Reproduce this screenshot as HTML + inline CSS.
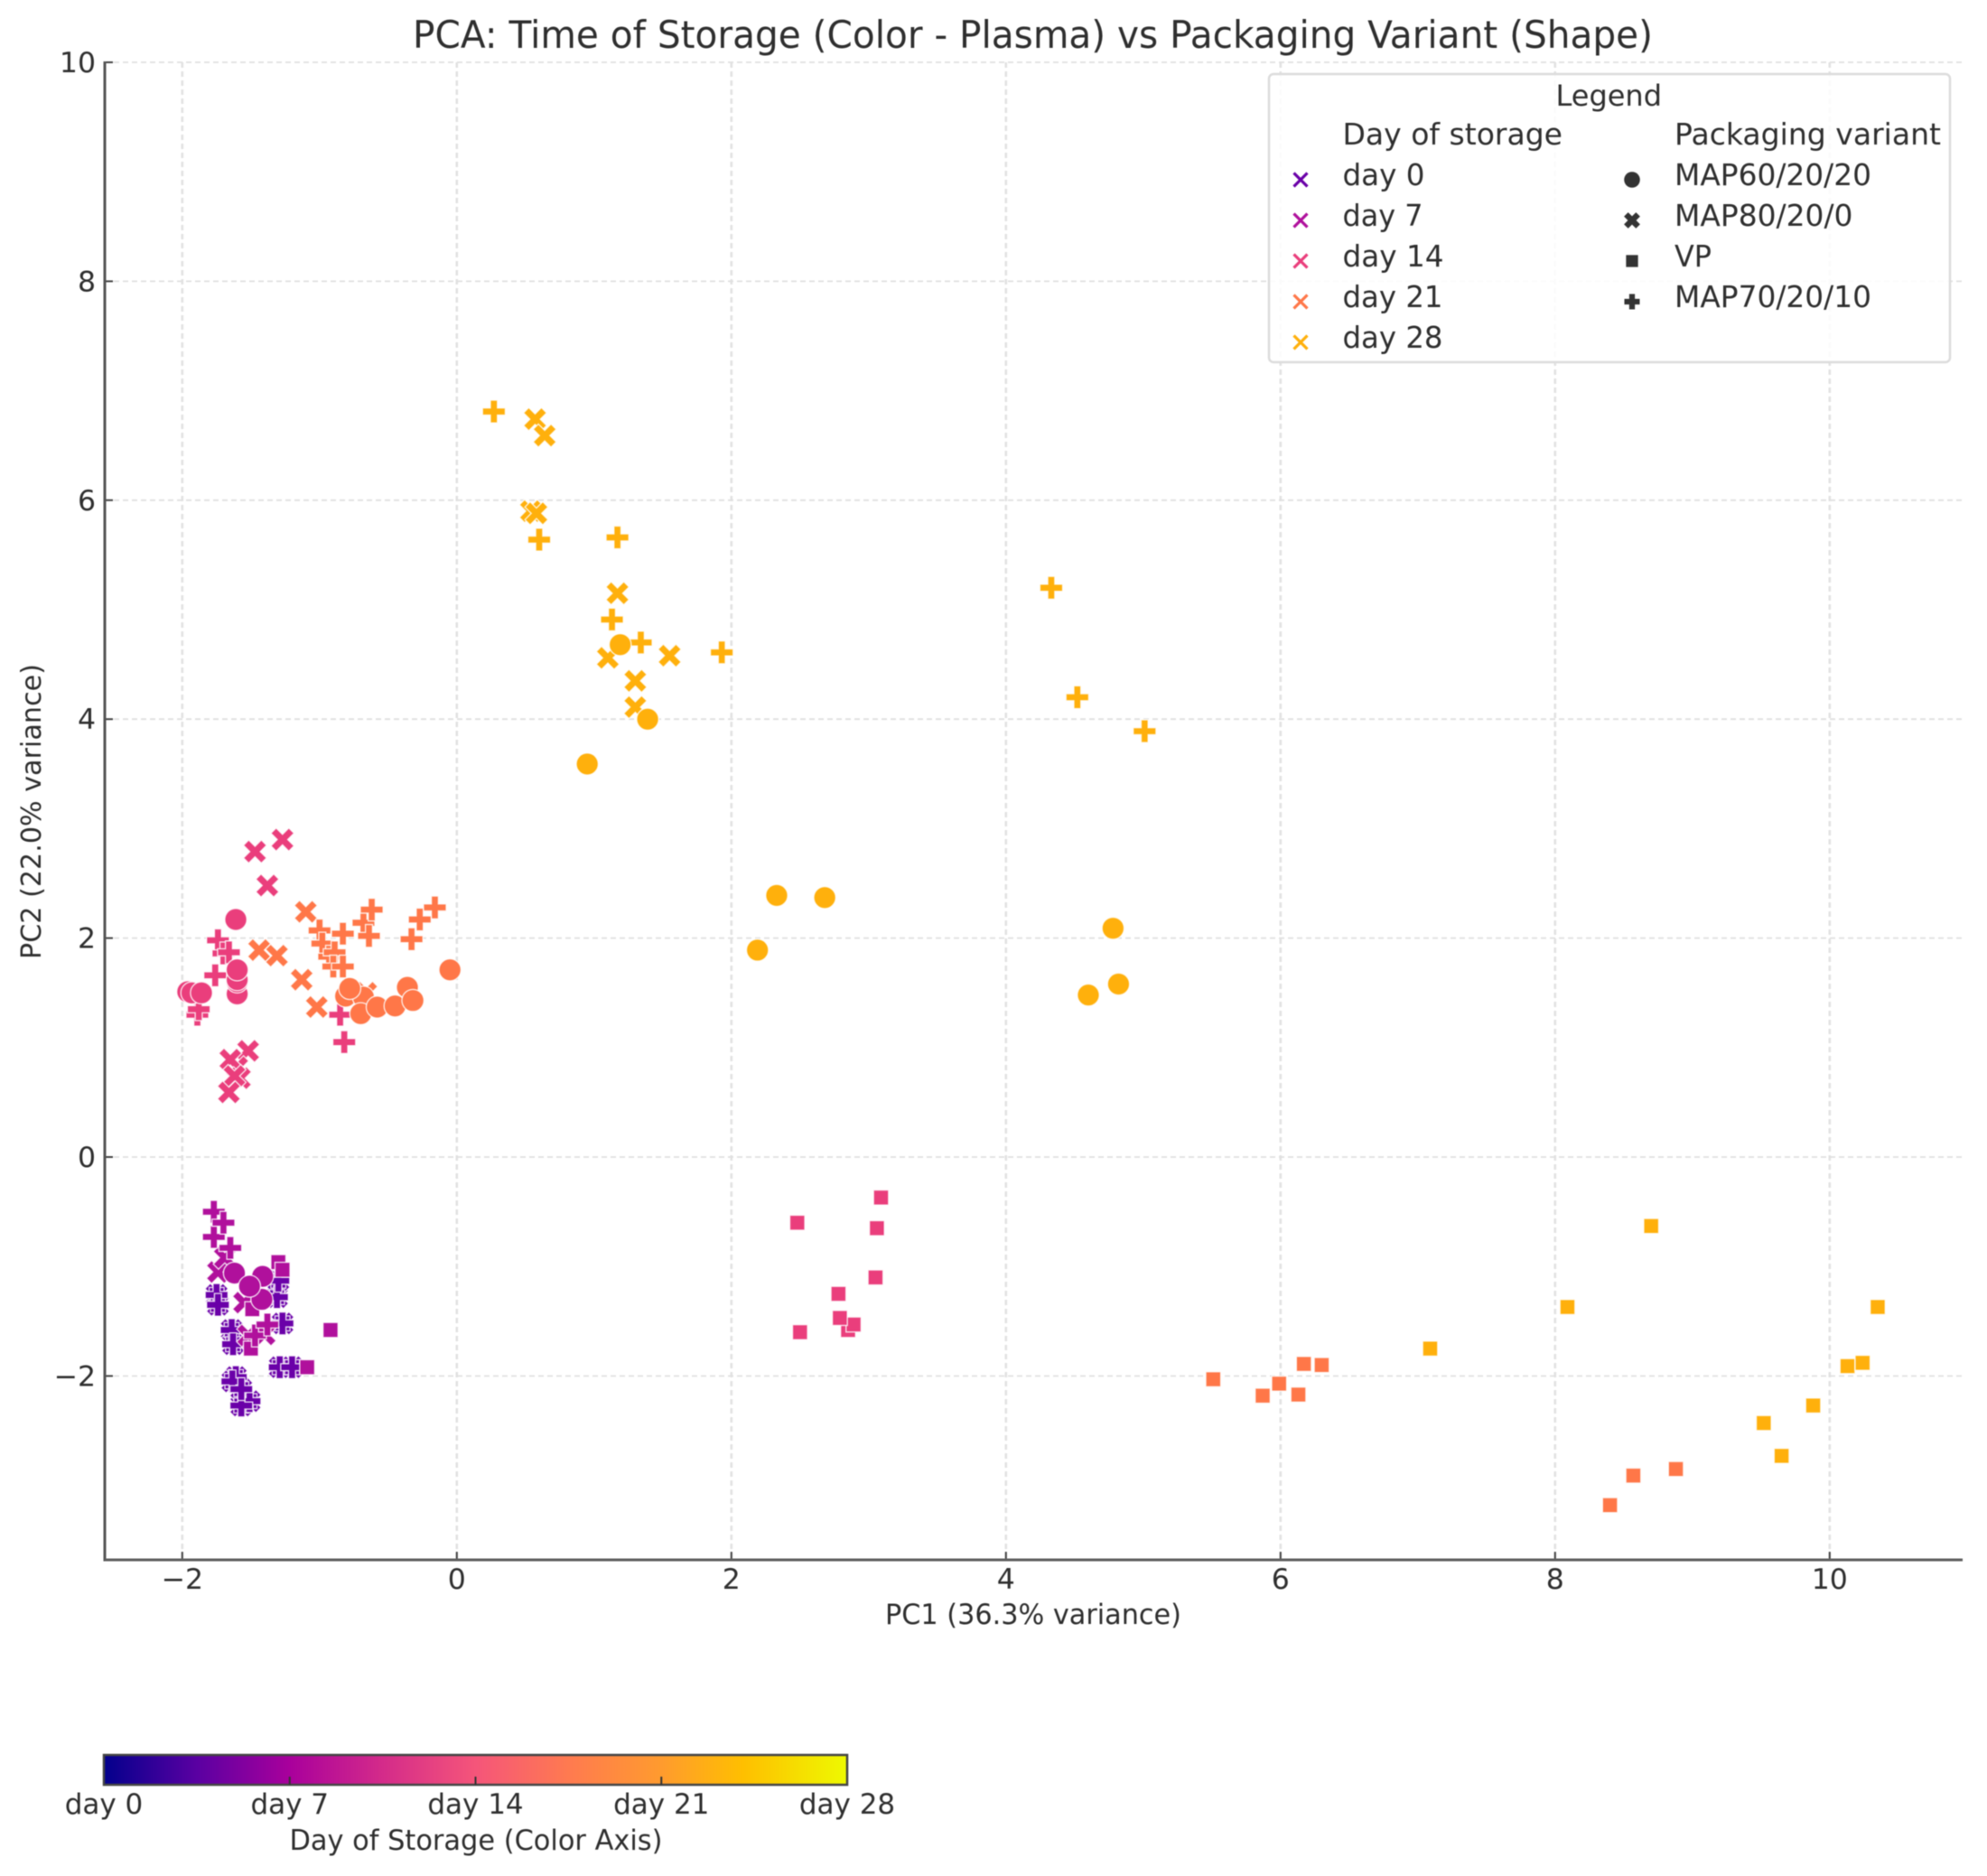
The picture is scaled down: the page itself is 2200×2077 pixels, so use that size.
<!DOCTYPE html>
<html lang="en">
<head>
<meta charset="utf-8">
<title>PCA: Time of Storage vs Packaging Variant</title>
<style>
html,body{margin:0;padding:0;background:#fff;}
svg{display:block;filter:blur(0.5px);}
text{font-family:"DejaVu Sans","Liberation Sans",sans-serif;fill:#2e2e2e;}
</style>
</head>
<body>
<svg id="chart" xmlns="http://www.w3.org/2000/svg" width="2200" height="2077" viewBox="0 0 2200 2077">
  <defs>
    <linearGradient id="plasmaGrad" x1="0" x2="1" y1="0" y2="0">
      <stop offset="0" stop-color="#03008c"/>
      <stop offset="0.125" stop-color="#5a00a2"/>
      <stop offset="0.25" stop-color="#a9009c"/>
      <stop offset="0.375" stop-color="#d42b8a"/>
      <stop offset="0.5" stop-color="#f5557a"/>
      <stop offset="0.625" stop-color="#ff7a50"/>
      <stop offset="0.75" stop-color="#ff9b2e"/>
      <stop offset="0.86" stop-color="#ffbf00"/>
      <stop offset="1" stop-color="#eef900"/>
    </linearGradient>
  </defs>
  <rect x="0" y="0" width="2200" height="2077" fill="#fff"/>
  <g id="grid"></g>
  <g id="marks"></g>
  <g id="axes"></g>

  <text x="1143.5" y="53" font-size="41.5" text-anchor="middle" textLength="1373" lengthAdjust="spacingAndGlyphs">PCA: Time of Storage (Color - Plasma) vs Packaging Variant (Shape)</text>
  <text x="1144" y="1798" font-size="31" text-anchor="middle" textLength="328" lengthAdjust="spacingAndGlyphs">PC1 (36.3% variance)</text>
  <text transform="translate(45 898.5) rotate(-90)" font-size="30.5" text-anchor="middle" textLength="327" lengthAdjust="spacingAndGlyphs">PC2 (22.0% variance)</text>

  <g id="legend">
    <rect x="1405" y="82" width="754" height="319" rx="5" ry="5" fill="#fff" fill-opacity="0.85" stroke="#dcdcdc" stroke-width="2.5"/>
    <text x="1722.5" y="117" font-size="32" textLength="117.5" lengthAdjust="spacingAndGlyphs">Legend</text>
    <text x="1486.5" y="160" font-size="32.5" textLength="243.5" lengthAdjust="spacingAndGlyphs">Day of storage</text>
    <text x="1854" y="160" font-size="32.5" textLength="295" lengthAdjust="spacingAndGlyphs">Packaging variant</text>
    <text x="1486.5" y="205" font-size="32.5" textLength="91" lengthAdjust="spacingAndGlyphs">day 0</text>
    <text x="1486.5" y="250" font-size="32.5" textLength="89" lengthAdjust="spacingAndGlyphs">day 7</text>
    <text x="1486.5" y="295" font-size="32.5" textLength="112" lengthAdjust="spacingAndGlyphs">day 14</text>
    <text x="1486.5" y="340" font-size="32.5" textLength="111" lengthAdjust="spacingAndGlyphs">day 21</text>
    <text x="1486.5" y="385" font-size="32.5" textLength="111" lengthAdjust="spacingAndGlyphs">day 28</text>
    <text x="1854" y="205" font-size="32.5" textLength="218" lengthAdjust="spacingAndGlyphs">MAP60/20/20</text>
    <text x="1854" y="250" font-size="32.5" textLength="197.5" lengthAdjust="spacingAndGlyphs">MAP80/20/0</text>
    <text x="1854" y="295" font-size="32.5" textLength="41" lengthAdjust="spacingAndGlyphs">VP</text>
    <text x="1854" y="340" font-size="32.5" textLength="218" lengthAdjust="spacingAndGlyphs">MAP70/20/10</text>
    <g id="legendMarkers"></g>
  </g>

  <g id="colorbar">
    <rect x="115" y="1943" width="823" height="33" fill="url(#plasmaGrad)" stroke="#444" stroke-width="2.5"/>
    <g id="colorbarTicks"></g>
    <text x="527" y="2048" font-size="31" text-anchor="middle" textLength="413" lengthAdjust="spacingAndGlyphs">Day of Storage (Color Axis)</text>
  </g>
</svg>
<script>
// ---------- chart data (PC1, PC2 pairs) ----------
const xTickValues = [-2, 0, 2, 4, 6, 8, 10];
const yTickValues = [-2, 0, 2, 4, 6, 8, 10];
const colorbarDays = [0, 7, 14, 21, 28];
const colorbarLabels = ['day 0', 'day 7', 'day 14', 'day 21', 'day 28'];

// day 0: all four packaging variants sit on the same positions
const day0Points = [[-1.75,-1.26],[-1.74,-1.35],[-1.64,-1.58],[-1.63,-1.71],[-1.61,-2.01],[-1.635,-2.05],[-1.51,-2.23],[-1.57,-2.27],[-1.57,-2.12],[-1.31,-1.28],[-1.27,-1.52],[-1.29,-1.92],[-1.20,-1.92],[-1.30,-1.13]];

const day7Cross = [[-1.74,-1.05],[-1.69,-0.92],[-1.55,-1.33],[-1.52,-1.63],[-1.40,-1.62]];
const day7Square = [[-1.30,-0.96],[-1.27,-1.03],[-1.49,-1.39],[-1.50,-1.75],[-0.92,-1.58],[-1.09,-1.92]];
const day7Plus = [[-1.77,-0.50],[-1.77,-0.73],[-1.70,-0.60],[-1.65,-0.83],[-1.47,-1.63],[-1.38,-1.53]];
const day7Circle = [[-1.62,-1.06],[-1.415,-1.09],[-1.42,-1.30],[-1.51,-1.18]];

const day14Cross = [[-1.47,2.79],[-1.27,2.90],[-1.38,2.48],[-1.52,0.97],[-1.60,0.82],[-1.65,0.89],[-1.58,0.72],[-1.62,0.74],[-1.66,0.59]];
const day14Square = [[3.09,-0.37],[2.48,-0.60],[3.06,-0.65],[3.05,-1.10],[2.78,-1.25],[2.85,-1.58],[2.89,-1.53],[2.79,-1.47],[2.50,-1.60]];
const day14Plus = [[-1.74,1.98],[-1.70,1.86],[-1.66,1.87],[-1.76,1.66],[-1.89,1.30],[-1.88,1.35],[-0.85,1.30],[-0.82,1.05]];
const day14Circle = [[-1.61,2.17],[-1.60,1.49],[-1.60,1.60],[-1.60,1.62],[-1.60,1.71],[-1.96,1.51],[-1.93,1.50],[-1.86,1.50]];

const day21Cross = [[-1.10,2.24],[-1.44,1.89],[-1.31,1.84],[-1.13,1.62],[-1.02,1.37],[-0.66,1.50]];
const day21Square = [[5.51,-2.03],[5.87,-2.18],[5.99,-2.07],[6.13,-2.17],[6.17,-1.89],[6.30,-1.90],[8.57,-2.91],[8.88,-2.85],[8.40,-3.18]];
const day21Plus = [[-0.68,2.14],[-0.62,2.26],[-0.16,2.28],[-0.27,2.17],[-0.64,2.02],[-0.83,2.04],[-1.00,2.07],[-0.33,1.99],[-0.98,1.95],[-0.93,1.83],[-0.89,1.87],[-0.90,1.74],[-0.83,1.74]];
const day21Circle = [[-0.81,1.47],[-0.68,1.46],[-0.70,1.31],[-0.58,1.37],[-0.45,1.38],[-0.36,1.55],[-0.32,1.43],[-0.05,1.71],[-0.78,1.54]];

const day28Cross = [[0.57,6.74],[0.64,6.59],[0.54,5.90],[0.58,5.88],[1.17,5.15],[1.10,4.56],[1.55,4.58],[1.30,4.35],[1.30,4.11]];
const day28Square = [[8.70,-0.63],[8.09,-1.37],[10.35,-1.37],[10.13,-1.91],[10.24,-1.88],[9.88,-2.27],[9.52,-2.43],[9.65,-2.73],[7.09,-1.75]];
const day28Plus = [[0.27,6.81],[0.60,5.64],[1.17,5.66],[1.13,4.91],[1.34,4.70],[1.93,4.61],[4.33,5.20],[4.52,4.20],[5.01,3.89]];
const day28Circle = [[1.19,4.68],[1.39,4.00],[0.95,3.59],[2.33,2.39],[2.68,2.37],[2.19,1.89],[4.78,2.09],[4.82,1.58],[4.60,1.48]];

// ---------- styles ----------
const dayColors = {0:'#6a00a8', 7:'#b0109c', 14:'#ea3e7c', 21:'#ff7748', 28:'#ffb00c'};
const legendDays = [0, 7, 14, 21, 28];
const legendShapes = ['circle', 'cross', 'square', 'plus'];

// ---------- axis functions ----------
const plotLeft = 116, plotRight = 2173, plotTop = 69, plotBottom = 1727;
function xScale(v){ return 505.8 + 152 * v; }
function yScale(v){ return 1281 - 121.2 * v; }
function barScale(d){ return 115 + d / 28 * 823; }

const NS = 'http://www.w3.org/2000/svg';
function make(tag, parent, attrs){
  const el = document.createElementNS(NS, tag);
  for (const k in attrs) el.setAttribute(k, attrs[k]);
  parent.appendChild(el);
  return el;
}
function fmt(v){ return v < 0 ? '\u2212' + Math.abs(v) : String(v); }

// grid, ticks, spines
const gridG = document.getElementById('grid');
const axesG = document.getElementById('axes');
xTickValues.forEach(function(v){
  const line = make('line', gridG, {x1:xScale(v), x2:xScale(v), y1:plotTop, y2:plotBottom, stroke:'#e2e2e2', 'stroke-width':2.6, 'stroke-dasharray':'6 4'});
  
  
  const tick = make('line', axesG, {x1:xScale(v), x2:xScale(v), y1:plotBottom, y2:plotBottom-9, stroke:'#444', 'stroke-width':2});
  
  
  const label = make('text', axesG, {x:xScale(v), y:1759, 'font-size':31.5, 'text-anchor':'middle'});
  label.textContent = fmt(v);
  
  
});
yTickValues.forEach(function(v){
  const line = make('line', gridG, {x1:plotLeft, x2:plotRight, y1:yScale(v), y2:yScale(v), stroke:'#e0e0e0', 'stroke-width':1.8, 'stroke-dasharray':'6 4'});
  
  
  const tick = make('line', axesG, {x1:plotLeft, x2:plotLeft+9, y1:yScale(v), y2:yScale(v), stroke:'#444', 'stroke-width':2});
  
  
  const label = make('text', axesG, {x:106, y:yScale(v)+11, 'font-size':31.5, 'text-anchor':'end'});
  label.textContent = fmt(v);
  
  
});
const spineLeft = make('line', axesG, {x1:plotLeft, x2:plotLeft, y1:plotTop-1, y2:plotBottom+1.5, stroke:'#555', 'stroke-width':3});


const spineBottom = make('line', axesG, {x1:plotLeft, x2:plotRight, y1:plotBottom, y2:plotBottom, stroke:'#5e5e5e', 'stroke-width':3});



// marker drawing
function plusPoints(cx, cy, a, t){
  return [[-t,-a],[t,-a],[t,-t],[a,-t],[a,t],[t,t],[t,a],[-t,a],[-t,t],[-a,t],[-a,-t],[-t,-t]]
    .map(function(p){ return (cx+p[0]) + ',' + (cy+p[1]); }).join(' ');
}
function crossPoints(cx, cy, a, t){
  const c = Math.SQRT1_2;
  return [[-t,-a],[t,-a],[t,-t],[a,-t],[a,t],[t,t],[t,a],[-t,a],[-t,t],[-a,t],[-a,-t],[-t,-t]]
    .map(function(p){ return (cx+(p[0]-p[1])*c) + ',' + (cy+(p[0]+p[1])*c); }).join(' ');
}
function drawMarker(parent, shape, cx, cy, color, k, edge){
  let el;
  if (shape === 'circle') el = make('circle', parent, {cx:cx, cy:cy, r:12.2*k});
  else if (shape === 'square') el = make('rect', parent, {x:cx-8.3*k, y:cy-8.3*k, width:16.6*k, height:16.6*k});
  else if (shape === 'plus') el = make('polygon', parent, {points:plusPoints(cx, cy, 12.6*k, 3.9*k)});
  else el = make('polygon', parent, {points:crossPoints(cx, cy, 14*k, 4.1*k)});
  el.setAttribute('fill', color);
  el.setAttribute('stroke', edge);
  el.setAttribute('stroke-width', 1.4);
  return el;
}
function drawSeries(day, shape, pts){
  const marksG = document.getElementById('marks');
  pts.forEach(function(p){
    const m = drawMarker(marksG, shape, xScale(p[0]), yScale(p[1]), dayColors[day], 1, 'rgba(255,255,255,0.8)');
    
    
  });
}

drawSeries(0, 'circle', day0Points);
drawSeries(0, 'cross', day0Points);
drawSeries(0, 'square', day0Points);
drawSeries(0, 'plus', day0Points);

drawSeries(7, 'cross', day7Cross);
drawSeries(7, 'square', day7Square);
drawSeries(7, 'plus', day7Plus);
drawSeries(7, 'circle', day7Circle);

drawSeries(14, 'cross', day14Cross);
drawSeries(14, 'square', day14Square);
drawSeries(14, 'plus', day14Plus);
drawSeries(14, 'circle', day14Circle);

drawSeries(21, 'cross', day21Cross);
drawSeries(21, 'square', day21Square);
drawSeries(21, 'plus', day21Plus);
drawSeries(21, 'circle', day21Circle);

drawSeries(28, 'cross', day28Cross);
drawSeries(28, 'square', day28Square);
drawSeries(28, 'plus', day28Plus);
drawSeries(28, 'circle', day28Circle);

// legend markers
const legendG = document.getElementById('legendMarkers');
legendDays.forEach(function(d, i){
  const cy = 199 + i * 45, a = 7.5;
  const glyph = make('path', legendG, {d:'M'+(1440-a)+' '+(cy-a)+'L'+(1440+a)+' '+(cy+a)+'M'+(1440+a)+' '+(cy-a)+'L'+(1440-a)+' '+(cy+a), stroke:dayColors[d], 'stroke-width':3.2, fill:'none'});
  
  
});
legendShapes.forEach(function(s, i){
  const m = drawMarker(legendG, s, 1807, 199 + i * 45, '#333', s === 'square' ? 0.8 : s === 'circle' ? 0.72 : 0.62, s === 'cross' || s === 'plus' ? '#333' : 'none');
  
  
});

// colorbar ticks
const barG = document.getElementById('colorbarTicks');
colorbarDays.forEach(function(d, i){
  if (i > 0 && i < colorbarDays.length - 1) {
    const t = make('line', barG, {x1:barScale(d), x2:barScale(d), y1:1976, y2:1967, stroke:'#333', 'stroke-width':2});
    
    
  }
  const label = make('text', barG, {x:barScale(d), y:2008, 'font-size':31, 'text-anchor':'middle'});
  label.textContent = colorbarLabels[i];
  
  
});
</script>
</body>
</html>
